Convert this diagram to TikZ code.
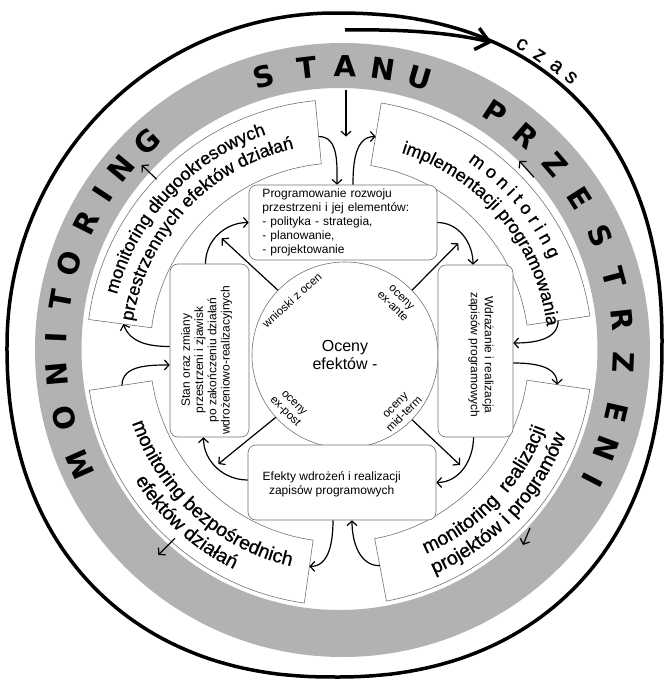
\documentclass[tikz,border=0pt]{standalone}
\usepackage{fontspec}
\setmainfont{Liberation Sans}
\setsansfont{Liberation Sans}
\newfontfamily\ringfont{DejaVu Sans}
\newfontfamily\arcfont[FakeBold=0.7]{Liberation Sans}
\newcommand\secfnt{\arcfont\fontsize{18}{18}\selectfont}
\newcommand\secfntb{\arcfont\fontsize{19.5}{19.5}\selectfont}
\usetikzlibrary{arrows.meta,decorations.text}

\tikzset{
  conn/.style={line width=1.2pt,-{Straight Barb[length=4.5pt,width=10pt,line width=1.2pt]}},
  thinline/.style={draw=black!55,line width=0.6pt},
  boxnode/.style={thinline,rounded corners=8pt,fill=white,inner sep=0pt},
  sectorshape/.style={thinline,fill=white},
  boxtext/.style={font=\fontsize{12}{14}\selectfont,inner sep=0pt,align=center},
  ringletter/.style={font=\ringfont\bfseries\fontsize{29}{29}\selectfont,inner sep=0pt},
  evallabel/.style={font=\fontsize{11.5}{12.5}\selectfont,inner sep=0pt,align=center},
  czasletter/.style={font=\arcfont\fontsize{21}{21}\selectfont,inner sep=0pt},
  arctext/.style={decorate,decoration={text along path,text align=center,text={|\secfnt|#1}}},
  arctextb/.style={decorate,decoration={text along path,text align=center,text={|\secfntb|#1}}},
}

\begin{document}
\begin{tikzpicture}[x=1pt,y=1pt]
\useasboundingbox (-339.5,-328.5) rectangle (330.5,352.5);
\fill[white] (-339.5,-328.5) rectangle (330.5,352.5);

% outer boundary (slightly squared in three quadrants)
\draw[line width=3.5pt]
  plot[domain=0.5:89.5,samples=60] ({-5+327.5*pow(cos(\x),0.87)},{7.5+332*pow(sin(\x),0.87)})
  -- plot[domain=90.5:179.5,samples=60] ({-5-327.5*(-cos(\x))},{7.5+332*sin(\x)})
  -- plot[domain=180.5:269.5,samples=60] ({-5-327.5*pow(-cos(\x),0.9)},{7.5-332*pow(-sin(\x),0.9)})
  -- plot[domain=270.5:359.5,samples=60] ({-5+327.5*pow(cos(\x),0.9)},{7.5-332*pow(-sin(\x),0.9)})
  -- cycle;

% grey ring
\fill[black!30,even odd rule] (3,2.5) ellipse[x radius=307.5,y radius=307]
  (0,3.5) ellipse[x radius=258,y radius=261];

% ring lettering
\foreach \ch/\ang [count=\k] in {M/203.8,O/193.9,N/185.0,I/177.5,T/169.8,O/162.3,R/153.3,I/146.7,N/140.3,G/132.8,S/105.5,T/96.7,A/89,N/81.3,U/73.6,P/56.8,R/49,Z/40.7,E/32.3,S/23.7,T/14.8,R/6.1,Z/-2.6,E/-12.8,N/-20.3,I/-27.3}
  \node[ringletter,rotate=\ang-90] (ring\k) at ([shift={(0.5,2.5)}]\ang:284) {\ch};

% czas arrow
\coordinate (czA) at (5.5,322.5);
\coordinate (czB) at (152.5,310);
\draw[line width=3.5pt,-{Straight Barb[length=13pt,width=22pt,line width=3.5pt]}]
  (czA) .. controls (70,323.5) and (115,319) .. (czB);
\node[czasletter,rotate=-30] (cz1) at (182.5,308) {c};
\node[czasletter,rotate=-34] (cz2) at (200,297) {z};
\node[czasletter,rotate=-38] (cz3) at (217,286) {a};
\node[czasletter,rotate=-42] (cz4) at (231.5,275) {s};

% four monitoring sectors
\draw[sectorshape] (95.5:189.5) -- (95.5:253) arc[start angle=95.5,end angle=172.5,radius=253]
  -- (172.5:189.5) arc[start angle=172.5,end angle=95.5,radius=189.5] -- cycle;
\draw[sectorshape] (8.3:189.5) -- (8.3:253) arc[start angle=8.3,end angle=80.5,radius=253]
  -- (80.5:189.5) arc[start angle=80.5,end angle=8.3,radius=189.5] -- cycle;
\draw[sectorshape] (188.6:189.5) -- (188.6:253) arc[start angle=188.6,end angle=262,radius=253]
  -- (262:189.5) arc[start angle=262,end angle=188.6,radius=189.5] -- cycle;
\draw[sectorshape] (280.7:189.5) -- (280.7:253) arc[start angle=280.7,end angle=351.6,radius=253]
  -- (351.6:189.5) arc[start angle=351.6,end angle=280.7,radius=189.5] -- cycle;

% sector titles
\path[arctext={monitoring długookresowych}] (176:230) arc[start angle=176,end angle=98,radius=230];
\path[arctext={przestrzennych efektów działań}] (176:209) arc[start angle=176,end angle=98,radius=209];
\path[arctext={m o n i t o r i n g}] (80:230) arc[start angle=80,end angle=0,radius=230];
\path[arctext={implementacji programowania}] (80:209) arc[start angle=80,end angle=0,radius=209];
\path[arctextb={monitoring bezpośrednich}] (188:219) arc[start angle=188,end angle=268,radius=219];
\path[arctextb={efektów działań}] (188:241) arc[start angle=188,end angle=268,radius=241];
\path[arctextb={monitoring {\ }realizacji}] (276.5:219) arc[start angle=276.5,end angle=356.5,radius=219];
\path[arctextb={projektów i programów}] (276.5:241) arc[start angle=276.5,end angle=356.5,radius=241];

% central evaluation circle
\node[circle,thinline,fill=white,minimum size=186pt,inner sep=0pt,
      font=\fontsize{16}{18}\selectfont,align=center] (oc) at (5.5,-2.5) {Oceny\\efektów -};
\node[evallabel,rotate=42] (wz) at (-47.5,52.5) {wnioski z ocen};
\node[evallabel,rotate=-45] (ea) at (57.5,50.5) {oceny\\ex-ante};
\node[evallabel,rotate=45] (mt) at (60.5,-57.5) {oceny\\mid-term};
\node[evallabel,rotate=-45] (ep) at (-50.5,-55.5) {oceny\\ex-post};

% boxes
\node[boxnode,minimum width=188pt,minimum height=75pt,text width=161pt,align=left,
      inner xsep=13.5pt,font=\fontsize{12}{14}\selectfont] (tb) at (3.5,130)
  {Programowanie rozwoju\\przestrzeni i jej elementów:\\- polityka - strategia,\\- planowanie,\\- projektowanie};
\node[boxnode,minimum width=79pt,minimum height=173pt] (lb) at (-130,2) {};
\node[boxtext,rotate=90,font=\fontsize{12}{13.3}\selectfont] (lbt) at (-132.8,-7.5)
  {Stan oraz zmiany\\przestrzeni i zjawisk\\po zakończeniu działań\\wdrożeniowo-realizacyjnych};
\node[boxnode,minimum width=75pt,minimum height=172pt] (rb) at (136,1.5) {};
\node[boxtext,rotate=-90] (rbt) at (141.5,-2.5) {Wdrażanie i realizacja\\zapisów programowych};
\node[boxnode,minimum width=188pt,minimum height=75pt] (bb) at (2.5,-130) {};
\node[boxtext] (bbt) at (-7.8,-131.5) {Efekty wdrożeń i realizacji\\zapisów programowych};

% named end points on the ring and sectors
\coordinate (ringTop) at (6.5,263);
\coordinate (ringTip) at (6.5,216);
\coordinate (sTLa) at (95.5:217);
\coordinate (sTRa) at (80.5:219);
\coordinate (sTRb) at (8.3:221);
\coordinate (sBRa) at (-8.4:220);
\coordinate (sBRb) at (280.7:217);
\coordinate (sBLa) at (262:216);
\coordinate (sBLb) at (188.6:220);
\coordinate (sTLb) at (172.5:218);

% evaluation arrows
\coordinate (tNW) at (-117.8,114.2);
\coordinate (tNE) at (118.8,109.2);
\coordinate (tSE) at (120.5,-112.5);
\coordinate (tSW) at (-121.2,-111.5);
\draw[conn] (oc.136) -- (tNW);
\draw[conn] (oc.44) -- (tNE);
\draw[conn] (oc.-44) -- (tSE);
\draw[conn] (oc.222) -- (tSW);

% cycle between the boxes
\draw[conn] ([xshift=-4pt]lb.north) to[out=90,in=180] (tb.west);
\draw[conn] (tb.east) to[out=0,in=90] ([xshift=-2.5pt]rb.north);
\draw[conn] ([xshift=-2pt]rb.south) to[out=-90,in=0] (bb.east);
\draw[conn] ([yshift=2.5pt]bb.west) to[out=180,in=-90] ([xshift=-6pt]lb.south);

% links between boxes and sectors
\draw[conn] (ringTop) -- (ringTip);
\draw[conn] (sTLa) to[out=0,in=90] ([xshift=-6pt]tb.north);
\draw[conn] ([xshift=10pt]tb.north) to[out=90,in=180] (sTRa);
\draw[conn] (sTRb) to[out=-90,in=0] ([yshift=8pt]rb.east);
\draw[conn] ([yshift=-12pt]rb.east) to[out=0,in=90] (sBRa);
\draw[conn] (sBRb) to[out=180,in=-90] ([xshift=10pt]bb.south);
\draw[conn] ([xshift=-9pt]bb.south) to[out=-90,in=0] (sBLa);
\draw[conn] (sBLb) to[out=90,in=180] ([yshift=-14.5pt]lb.west);
\draw[conn] ([yshift=4pt]lb.west) to[out=180,in=-70] (sTLb);

% small arrows from the sectors towards the ring
\coordinate (mTL0) at (-182.8,173.2); \coordinate (mTL1) at (-197.8,187.5);
\coordinate (mTR0) at (194.5,175.2);  \coordinate (mTR1) at (179.8,191.5);
\coordinate (mBL0) at (-164.5,-185.8); \coordinate (mBL1) at (-181.2,-202.5);
\coordinate (mBR0) at (190.5,-175.5); \coordinate (mBR1) at (183.5,-192.5);
\draw[conn] (mTL0) -- (mTL1);
\draw[conn] (mTR0) -- (mTR1);
\draw[conn] (mBL0) -- (mBL1);
\draw[conn] (mBR0) -- (mBR1);
\end{tikzpicture}
\end{document}
